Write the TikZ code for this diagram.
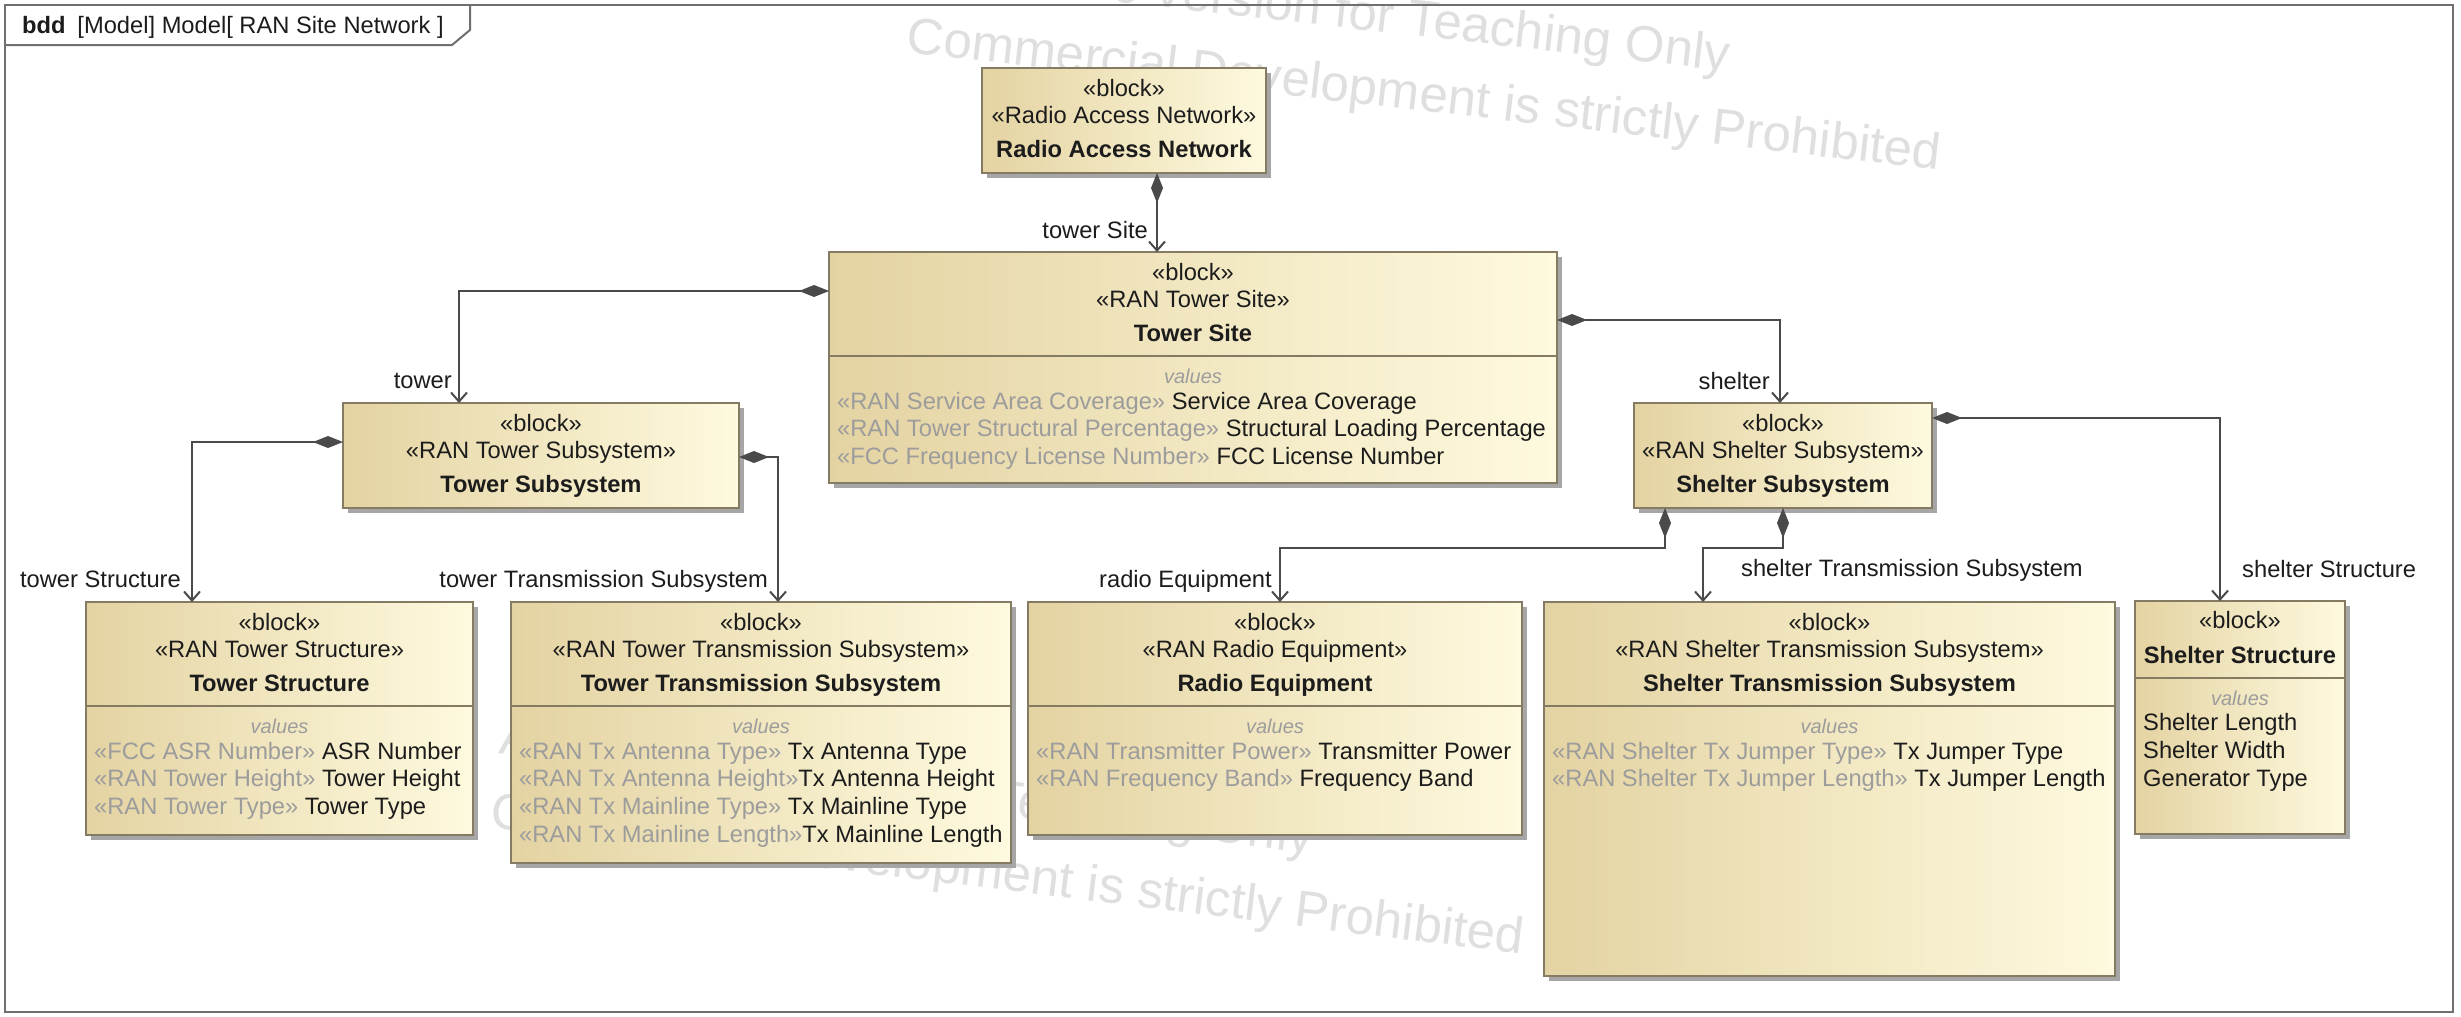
\documentclass[tikz,border=0pt]{standalone}
\usepackage{fontspec}
\setmainfont{Liberation Sans}
\usetikzlibrary{arrows.meta,calc,shadows}

\definecolor{frameline}{HTML}{6F6F6F}
\definecolor{boxedge}{HTML}{857A62}
\definecolor{tanleft}{HTML}{E4D3A2}
\definecolor{tanright}{HTML}{FEFADF}
\definecolor{shadowgrey}{HTML}{A6A6A6}
\definecolor{wire}{HTML}{4A4A4A}
\definecolor{stgrey}{HTML}{9C9C9C}
\definecolor{inkblack}{HTML}{1C1C1C}
\definecolor{wmgrey}{HTML}{DFDFDF}

% block with given top-left corner, width and height
\newcommand{\blk}[5]{\node[blockbox, minimum width=#4pt, minimum height=#5pt] (#1) at (#2,#3) {};}
% three-line block header: keyword, stereotype, name
\newcommand{\blockhead}[3]{%
  \node[txt] (#1-kw) at ($(#1.north)+(0,28)$) {«block»};
  \node[txt] (#1-st) at ($(#1.north)+(0,55)$) {«#2»};
  \node[txtb] (#1-nm) at ($(#1.north)+(0,89)$) {#3};}
% compartment separator and its heading
\newcommand{\compartment}[2]{%
  \draw[sepline] ($(#1.north west)+(0,#2)$) -- ($(#1.north east)+(0,#2)$);
  \node[valhead] (#1-vh) at ($(#1.north)+(0,#2+27)$) {values};}
% one value property row
\newcommand{\valrow}[4]{\node[txt, anchor=base west] (#1) at ($(#2.north west)+(8,#3)$) {#4};}
\newcommand{\stp}[1]{\textcolor{stgrey}{«#1»}}

\begin{document}
\begin{tikzpicture}[x=1pt,y=-1pt,
  blockbox/.style={draw=boxedge, line width=1.8pt, left color=tanleft, right color=tanright,
    drop shadow={shadow xshift=5pt, shadow yshift=-5pt, fill=shadowgrey, opacity=1},
    anchor=north west, inner sep=0pt, outer sep=0pt},
  sepline/.style={draw=boxedge, line width=1.8pt},
  txt/.style={anchor=base, inner sep=0pt, text=inkblack, font=\fontsize{23.7}{28}\selectfont},
  txtb/.style={txt, font=\fontsize{23.7}{28}\selectfont\bfseries},
  valhead/.style={anchor=base, inner sep=0pt, text=stgrey, font=\fontsize{20}{24}\selectfont\itshape},
  lbl/.style={inner sep=0pt, text=inkblack, font=\fontsize{23.7}{28}\selectfont},
  comp/.style={draw=wire, line width=2pt,
    arrows={Diamond[length=30pt,width=12pt]-Straight Barb[length=9pt,width=16pt]}},
  framestyle/.style={draw=frameline, line width=2pt},
  wmtext/.style={inner sep=0pt, text=wmgrey, font=\fontsize{51}{60}\selectfont}]

\useasboundingbox (0,0) rectangle (2461,1017);
\fill[white] (0,0) rectangle (2461,1017);

% licence watermark, drawn underneath everything
\begin{scope}[shift={(907,39)}, rotate=-6.5, transform shape]
  \node[wmtext, anchor=west] (wm-a1) at (0,-74) {Academic Version for Teaching Only};
  \node[wmtext, anchor=west] (wm-a2) at (0,0) {Commercial Development is strictly Prohibited};
\end{scope}
\begin{scope}[shift={(491,814)}, rotate=-7, transform shape]
  \node[wmtext, anchor=west] (wm-b1) at (0,-74) {Academic Version for Teaching Only};
  \node[wmtext, anchor=west] (wm-b2) at (0,0) {Commercial Development is strictly Prohibited};
\end{scope}

% diagram frame with its name tab
\draw[framestyle] (5,5) rectangle (2453,1012);
\draw[framestyle] (5,45) -- (452,45) -- (470,30) -- (470,5);
\node[lbl, anchor=base west] (title) at (22,33) {\textbf{bdd}\enspace[Model] Model[ RAN Site Network ]};

% blocks
\blk{ran}{982}{68}{284}{105}
\blk{ts}{829}{252}{728}{231}
\blk{tsub}{343}{403}{396}{105}
\blk{ssub}{1634}{403}{298}{105}
\blk{tstr}{86}{602}{387}{233}
\blk{ttx}{511}{602}{500}{261}
\blk{radio}{1028}{602}{494}{233}
\blk{stx}{1544}{602}{571}{374}
\blk{sstr}{2135}{601}{210}{233}

\blockhead{ran}{Radio Access Network}{Radio Access Network}
\blockhead{ts}{RAN Tower Site}{Tower Site}
\blockhead{tsub}{RAN Tower Subsystem}{Tower Subsystem}
\blockhead{ssub}{RAN Shelter Subsystem}{Shelter Subsystem}
\blockhead{tstr}{RAN Tower Structure}{Tower Structure}
\blockhead{ttx}{RAN Tower Transmission Subsystem}{Tower Transmission Subsystem}
\blockhead{radio}{RAN Radio Equipment}{Radio Equipment}
\blockhead{stx}{RAN Shelter Transmission Subsystem}{Shelter Transmission Subsystem}
\node[txt] (sstr-kw) at ($(sstr.north)+(0,27)$) {«block»};
\node[txtb] (sstr-nm) at ($(sstr.north)+(0,62)$) {Shelter Structure};

% value compartments
\compartment{ts}{104}
\valrow{ts-v1}{ts}{157}{\stp{RAN Service Area Coverage} Service Area Coverage}
\valrow{ts-v2}{ts}{184}{\stp{RAN Tower Structural Percentage} Structural Loading Percentage}
\valrow{ts-v3}{ts}{212}{\stp{FCC Frequency License Number} FCC License Number}

\compartment{tstr}{104}
\valrow{tstr-v1}{tstr}{157}{\stp{FCC ASR Number} ASR Number}
\valrow{tstr-v2}{tstr}{184}{\stp{RAN Tower Height} Tower Height}
\valrow{tstr-v3}{tstr}{212}{\stp{RAN Tower Type} Tower Type}

\compartment{ttx}{104}
\valrow{ttx-v1}{ttx}{157}{\stp{RAN Tx Antenna Type} Tx Antenna Type}
\valrow{ttx-v2}{ttx}{184}{\stp{RAN Tx Antenna Height}Tx Antenna Height}
\valrow{ttx-v3}{ttx}{212}{\stp{RAN Tx Mainline Type} Tx Mainline Type}
\valrow{ttx-v4}{ttx}{240}{\stp{RAN Tx Mainline Length}Tx Mainline Length}

\compartment{radio}{104}
\valrow{radio-v1}{radio}{157}{\stp{RAN Transmitter Power} Transmitter Power}
\valrow{radio-v2}{radio}{184}{\stp{RAN Frequency Band} Frequency Band}

\compartment{stx}{104}
\valrow{stx-v1}{stx}{157}{\stp{RAN Shelter Tx Jumper Type} Tx Jumper Type}
\valrow{stx-v2}{stx}{184}{\stp{RAN Shelter Tx Jumper Length} Tx Jumper Length}

\compartment{sstr}{77}
\valrow{sstr-v1}{sstr}{129}{Shelter Length}
\valrow{sstr-v2}{sstr}{157}{Shelter Width}
\valrow{sstr-v3}{sstr}{185}{Generator Type}

% composite associations
\draw[comp] ($(ran.south west)+(175,0)$) -- ($(ts.north west)+(328,0)$);
\draw[comp] ($(ts.north west)+(0,39)$) -| ($(tsub.north west)+(116,0)$);
\draw[comp] ($(ts.north east)+(0,68)$) -| ($(ssub.north west)+(146,0)$);
\draw[comp] ($(tsub.north west)+(0,39)$) -| ($(tstr.north west)+(106,0)$);
\draw[comp] ($(tsub.north east)+(0,54)$) -| ($(ttx.north west)+(267,0)$);
\draw[comp] ($(ssub.north east)+(0,15)$) -| ($(sstr.north west)+(85,0)$);
\draw[comp] ($(ssub.south west)+(31,0)$) -- ++(0,40) -| ($(radio.north west)+(252,0)$);
\draw[comp] (ssub.south) -- ++(0,40) -| ($(stx.north west)+(159,0)$);

% role names
\node[lbl, anchor=base east] (r-site) at (1148,238) {tower Site};
\node[lbl, anchor=base east] (r-tower) at (452,388) {tower};
\node[lbl, anchor=base east] (r-shelter) at (1770,389) {shelter};
\node[lbl, anchor=base east] (r-tstr) at (181,587) {tower Structure};
\node[lbl, anchor=base east] (r-ttx) at (768,587) {tower Transmission Subsystem};
\node[lbl, anchor=base east] (r-radio) at (1272,587) {radio Equipment};
\node[lbl, anchor=base west] (r-stx) at (1741,576) {shelter Transmission Subsystem};
\node[lbl, anchor=base west] (r-sstr) at (2242,577) {shelter Structure};
\end{tikzpicture}
\end{document}
